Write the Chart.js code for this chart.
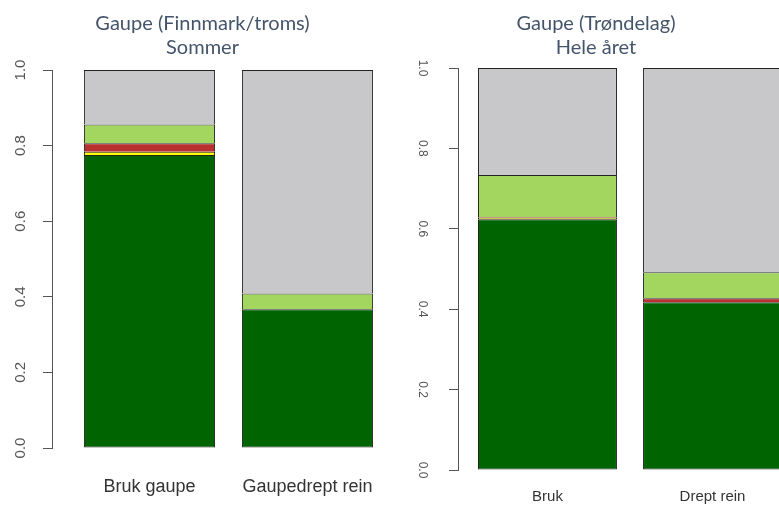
<!DOCTYPE html>
<html>
<head>
<meta charset="utf-8">
<script src="https://cdn.jsdelivr.net/npm/chart.js@4.4.1/dist/chart.umd.min.js"></script>
<style>
    body { margin: 0; background: #fff; width: 779px; height: 505px; overflow: hidden; position: relative; }
    canvas { position: absolute; top: 0; }
</style>
</head>
<body>
<canvas id="leftChart" width="440" height="505" style="left:0"></canvas>
<canvas id="rightChart" width="472" height="505" style="left:390px"></canvas>
<script>
// left panel: Finnmark/Troms, summer
const leftTitle = ["Gaupe (Finnmark/troms)", "Sommer"];
const leftCategories = ["Bruk gaupe", "Gaupedrept rein"];
const leftDarkGreen = [0.775, 0.367];
const leftYellow = [0.009, 0];
const leftRed = [0.022, 0];
const leftLightGreen = [0.050, 0.042];
const leftGrey = [0.144, 0.591];

// right panel: Trøndelag, whole year
const rightTitle = ["Gaupe (Trøndelag)", "Hele året"];
const rightCategories = ["Bruk", "Drept rein"];
const rightDarkGreen = [0.624, 0.417];
const rightYellow = [0.003, 0];
const rightRed = [0.002, 0.010];
const rightLightGreen = [0.105, 0.065];
const rightGrey = [0.266, 0.508];

const yTicks = [0, 0.2, 0.4, 0.6, 0.8, 1.0];

const colors = ["#006400", "#ffff00", "#b8312f", "#a2d65e", "#c8c8cb"];

// y labels in R run along the axis, so draw them rotated ourselves
const rotatedYLabels = {
    id: "rotatedYLabels",
    afterDraw(chart, args, opts) {
        const s = chart.scales.y;
        const ctx = chart.ctx;
        ctx.save();
        ctx.fillStyle = opts.color;
        ctx.font = opts.font;
        ctx.textAlign = "center";
        ctx.textBaseline = "middle";
        s.ticks.forEach(t => {
            const y = s.getPixelForValue(t.value);
            ctx.save();
            ctx.translate(opts.x, y);
            ctx.rotate(opts.angle);
            ctx.fillText(t.value.toFixed(1), 0, 0);
            ctx.restore();
        });
        ctx.restore();
    }
};

function makeChart(id, cfg) {
    const series = [cfg.darkGreen, cfg.yellow, cfg.red, cfg.lightGreen, cfg.grey];
    const datasets = series.map((vals, k) => ({
        data: vals.map((v, i) => ({ x: i, y: v })),
        backgroundColor: colors[k],
        borderColor: "#222",
        borderWidth: { top: 1, left: 1, right: 1, bottom: k === 0 ? 1 : 0 },
        borderSkipped: false,
        categoryPercentage: 1,
        barPercentage: cfg.barPct
    }));

    return new Chart(document.getElementById(id), {
        type: "bar",
        data: { datasets: datasets },
        plugins: [rotatedYLabels],
        options: {
            responsive: false,
            animation: false,
            layout: { padding: { left: 0, right: cfg.padRight, top: 0, bottom: 0 } },
            plugins: {
                legend: { display: false },
                tooltip: { enabled: false },
                title: {
                    display: true,
                    text: cfg.title,
                    color: "#44546a",
                    font: { family: "Lato", size: 20, weight: "normal", lineHeight: 1.2 },
                    padding: { top: 12, bottom: cfg.titleBottom }
                },
                rotatedYLabels: cfg.yLabels
            },
            scales: {
                x: {
                    type: "linear",
                    offset: false,
                    min: cfg.xMin,
                    max: cfg.xMax,
                    stacked: true,
                    grid: { display: false, drawTicks: false, offset: false },
                    border: { display: false },
                    afterBuildTicks: s => { s.ticks = cfg.categories.map((c, i) => ({ value: i })); },
                    afterFit: s => { s.height = cfg.xHeight; },
                    ticks: {
                        autoSkip: false,
                        maxRotation: 0,
                        padding: cfg.xPad,
                        color: "#333",
                        font: { family: "Liberation Sans", size: cfg.xFont },
                        callback: v => cfg.categories[v]
                    }
                },
                y: {
                    min: 0,
                    max: 1,
                    stacked: true,
                    afterBuildTicks: s => { s.ticks = yTicks.map(v => ({ value: v })); },
                    afterFit: s => { s.width = cfg.yWidth; },
                    ticks: { display: false },
                    grid: { drawOnChartArea: false, drawTicks: true, tickLength: 9, color: "#555" },
                    border: { display: true, color: "#555" }
                }
            }
        }
    });
}

makeChart("leftChart", {
    title: leftTitle, categories: leftCategories,
    darkGreen: leftDarkGreen, yellow: leftYellow, red: leftRed, lightGreen: leftLightGreen, grey: leftGrey,
    barPct: 0.83, xMin: -0.617, xMax: 1.617, padRight: 35, titleBottom: 10,
    xHeight: 57, xPad: 28, xFont: 18, yWidth: 52,
    yLabels: { x: 21, angle: -Math.PI / 2, color: "#555", font: "15px 'Liberation Sans'" }
});

makeChart("rightChart", {
    title: rightTitle, categories: rightCategories,
    darkGreen: rightDarkGreen, yellow: rightYellow, red: rightRed, lightGreen: rightLightGreen, grey: rightGrey,
    barPct: 0.842, xMin: -0.542, xMax: 1.542, padRight: 60, titleBottom: 8,
    xHeight: 35, xPad: 18, xFont: 15, yWidth: 68,
    yLabels: { x: 32, angle: Math.PI / 2, color: "#555", font: "12px 'Liberation Sans'" }
});
</script>
</body>
</html>
